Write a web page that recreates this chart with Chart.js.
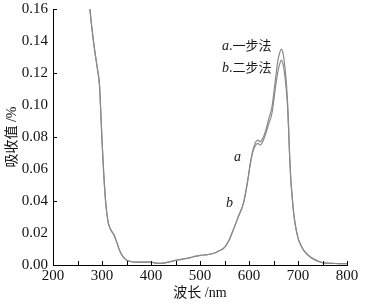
<!DOCTYPE html>
<html>
<head>
<meta charset="utf-8">
<script src="https://cdn.jsdelivr.net/npm/chart.js@4.4.1/dist/chart.umd.min.js"></script>
<style>
  html, body { margin: 0; padding: 0; background: #fff; }
  #wrap { width: 365px; height: 304px; position: relative; }
</style>
</head>
<body>
<div id="wrap"><canvas id="grafico"></canvas></div>
<script>
// comprimento de onda (nm)
const comprimentos = [272, 276, 283, 288, 291, 295, 298, 300, 303, 307, 310, 313, 318, 324, 328, 331, 336, 341, 348, 358,
  370, 385, 399, 410, 420, 435, 453, 470, 485, 500, 515, 530, 540, 550, 560, 568, 578, 589, 597, 603,
  609, 614, 618, 623, 628, 633, 640, 647, 654, 659, 663, 666, 669, 672, 676, 679, 681, 683, 685, 688,
  691, 694, 700, 705, 712, 725, 740, 752, 770, 790, 800];

// a. 一步法
const absorbA = [0.175, 0.158, 0.139, 0.128, 0.122, 0.112, 0.092, 0.078, 0.060, 0.041, 0.032, 0.026, 0.022, 0.019, 0.016, 0.0135, 0.009, 0.006, 0.0035, 0.0022,
  0.0018, 0.0018, 0.0018, 0.0012, 0.001, 0.0018, 0.003, 0.004, 0.005, 0.006, 0.0065, 0.0075, 0.009, 0.011, 0.016, 0.022, 0.030, 0.039, 0.052, 0.064,
  0.073, 0.077, 0.078, 0.077, 0.079, 0.083, 0.091, 0.099, 0.116, 0.128, 0.133, 0.135, 0.133, 0.127, 0.115, 0.100, 0.085, 0.068, 0.055, 0.043,
  0.033, 0.026, 0.017, 0.013, 0.009, 0.005, 0.0025, 0.0013, 0.001, 0.0008, 0.0008];

// b. 二步法
const absorbB = [0.175, 0.158, 0.139, 0.128, 0.122, 0.112, 0.092, 0.078, 0.060, 0.041, 0.032, 0.026, 0.022, 0.019, 0.016, 0.0135, 0.009, 0.006, 0.0035, 0.0022,
  0.0018, 0.0018, 0.0018, 0.0012, 0.001, 0.0018, 0.003, 0.004, 0.005, 0.006, 0.0065, 0.0075, 0.009, 0.011, 0.016, 0.022, 0.030, 0.039, 0.052, 0.064,
  0.072, 0.075, 0.076, 0.075, 0.077, 0.081, 0.088, 0.095, 0.111, 0.121, 0.126, 0.128, 0.126, 0.121, 0.110, 0.097, 0.083, 0.067, 0.055, 0.043,
  0.033, 0.026, 0.017, 0.013, 0.009, 0.005, 0.0025, 0.0013, 0.001, 0.0008, 0.0008];

const marcasX = [250, 300, 350, 400, 450, 500, 550, 600, 650, 700, 750, 800];
const marcasY = [0.04, 0.08, 0.12, 0.16];

const fonteNum = "'Liberation Serif', 'Noto Sans CJK SC', serif";

function montarPontos(valores) {
    return comprimentos.map((nm, i) => ({ x: nm, y: valores[i] }));
}

// marcas para dentro + rótulos a/b
const pluginMarcas = {
    id: 'marcas',
    afterDraw(chart) {
        const ctx = chart.ctx;
        const sx = chart.scales.x, sy = chart.scales.y;
        const area = chart.chartArea;
        ctx.save();
        ctx.strokeStyle = '#000';
        ctx.lineWidth = 1;
        ctx.beginPath();
        marcasX.forEach(v => {
            const px = Math.round(sx.getPixelForValue(v)) + 0.5;
            ctx.moveTo(px, area.bottom);
            ctx.lineTo(px, area.bottom - 4);
        });
        marcasY.forEach(v => {
            const py = Math.round(sy.getPixelForValue(v)) + 0.5;
            ctx.moveTo(area.left, py);
            ctx.lineTo(area.left + 4, py);
        });
        ctx.stroke();

        ctx.fillStyle = '#1a1a1a';
        ctx.textBaseline = 'alphabetic';
        ctx.font = "italic 14px 'Liberation Serif', serif";
        ctx.fillText('a', 222, 50);
        ctx.fillText('b', 222, 72);
        ctx.font = "13px 'Noto Sans CJK SC', sans-serif";
        ctx.fillText('.一步法', 229, 50);
        ctx.fillText('.二步法', 229, 72);

        ctx.font = "italic 14px 'Liberation Serif', serif";
        ctx.fillText('a', 234, 161);
        ctx.fillText('b', 226, 207);
        ctx.restore();
    }
};

const estiloLinha = {
    borderColor: '#8a8a8a',
    borderWidth: 1.2,
    pointRadius: 0,
    fill: false,
    cubicInterpolationMode: 'monotone'
};

new Chart(document.getElementById('grafico'), {
    type: 'line',
    data: {
        datasets: [
            { label: 'a.一步法', data: montarPontos(absorbA), ...estiloLinha },
            { label: 'b.二步法', data: montarPontos(absorbB), ...estiloLinha }
        ]
    },
    options: {
        responsive: true,
        maintainAspectRatio: false,
        animation: false,
        layout: { padding: { top: 9, right: 18, left: 0, bottom: 0 } },
        plugins: { legend: { display: false }, tooltip: { enabled: false } },
        scales: {
            x: {
                type: 'linear', min: 200, max: 800,
                grid: { display: false, drawTicks: false },
                border: { display: true, color: '#000', width: 1 },
                ticks: {
                    stepSize: 100, padding: 2, color: '#111',
                    font: { family: fonteNum, size: 15 },
                    maxRotation: 0
                },
                title: {
                    display: true, text: '波长 /nm', color: '#111',
                    font: { family: fonteNum, size: 14 },
                    padding: { top: 0, bottom: 2 }
                },
                afterFit(scale) {
                    scale.height = 39;
                    scale.paddingLeft = 0;
                    scale.paddingRight = 0;
                }
            },
            y: {
                min: 0, max: 0.16,
                grid: { display: false, drawTicks: false },
                border: { display: true, color: '#000', width: 1 },
                ticks: {
                    stepSize: 0.02, padding: 5, color: '#111',
                    font: { family: fonteNum, size: 15 },
                    callback: v => v.toFixed(2)
                },
                title: {
                    display: true, text: '吸收值 /%', color: '#111',
                    font: { family: fonteNum, size: 14 },
                    padding: { top: 4, bottom: 0 }
                },
                afterFit(scale) {
                    scale.width = 53;
                    scale.paddingTop = 0;
                    scale.paddingBottom = 0;
                }
            }
        }
    },
    plugins: [pluginMarcas]
});
</script>
</body>
</html>
